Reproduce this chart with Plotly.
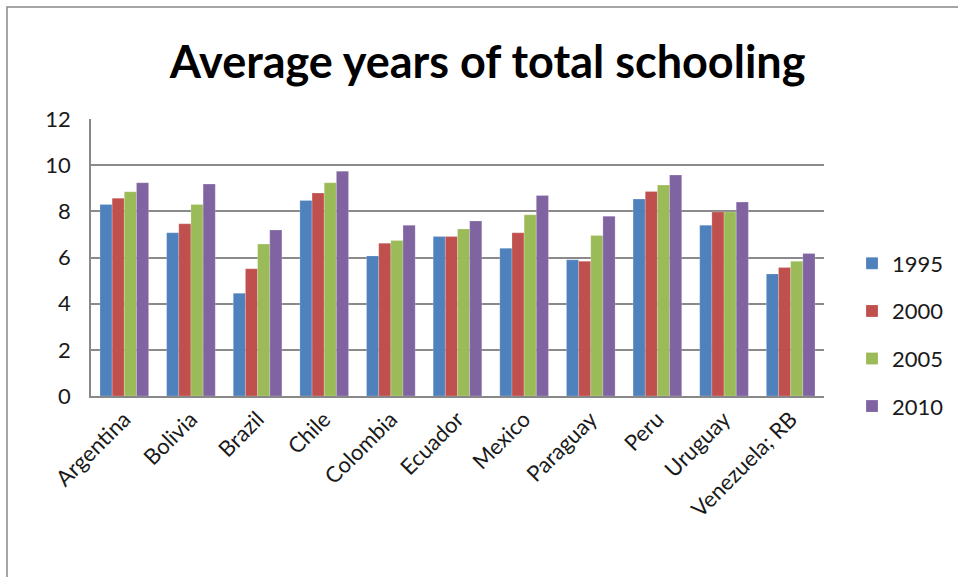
import plotly.graph_objects as go

countries = ["Argentina", "Bolivia", "Brazil", "Chile", "Colombia", "Ecuador",
             "Mexico", "Paraguay", "Peru", "Uruguay", "Venezuela; RB"]
y1995 = [8.30, 7.07, 4.45, 8.47, 6.07, 6.91, 6.40, 5.90, 8.53, 7.40, 5.29]
y2000 = [8.57, 7.46, 5.51, 8.79, 6.62, 6.91, 7.07, 5.84, 8.86, 7.97, 5.57]
y2005 = [8.85, 8.30, 6.58, 9.24, 6.74, 7.24, 7.85, 6.95, 9.14, 7.97, 5.84]
y2010 = [9.24, 9.18, 7.19, 9.74, 7.40, 7.58, 8.69, 7.79, 9.57, 8.40, 6.17]

series = [("1995", y1995, "#4F81BD"), ("2000", y2000, "#C0504D"),
          ("2005", y2005, "#9BBB59"), ("2010", y2010, "#8064A2")]

W, H = 958, 577
L, R, T, B = 91, 134, 119, 181
pw, ph = W - L - R, H - T - B

fig = go.Figure()
for name, vals, color in series:
    fig.add_trace(go.Bar(x=countries, y=vals, name=name, legendgroup=name,
                         marker=dict(color=color, line=dict(color="rgba(255,255,255,0.4)", width=0.5))))

fig.update_layout(
    width=W, height=H,
    margin=dict(l=L, r=R, t=T, b=B, autoexpand=False),
    paper_bgcolor="white", plot_bgcolor="white",
    font=dict(family="Lato", color="#1a1a1a"),
    barmode="group", bargap=0.27, bargroupgap=0,
    title=dict(text="<b>Average years of total schooling</b>", x=0.509, xanchor="center",
               y=1 - 62 / H, yanchor="middle", font=dict(size=45, color="black")),
    legend=dict(x=(852 - L) / pw, xanchor="left", y=1 - (335 - T) / ph, yanchor="middle",
                font=dict(size=22), tracegroupgap=16, traceorder="grouped",
                itemwidth=30),
    xaxis=dict(tickangle=-45, tickfont=dict(size=22), showline=True,
               linecolor="#888", linewidth=1.5, ticks="", automargin=False),
    yaxis=dict(range=[0, 12], dtick=2, tickfont=dict(size=22), showgrid=True,
               gridcolor="#8a8a8a", gridwidth=1.5, showline=True, linecolor="#888",
               linewidth=1.5, ticks="", ticklabelstandoff=14, zeroline=False,
               automargin=False),
    shapes=[dict(type="rect", xref="paper", yref="paper",
                 x0=(7 - L) / pw, x1=(W + 10 - L) / pw,
                 y0=-(B + 10) / ph, y1=1 + (T - 7) / ph,
                 line=dict(color="#888", width=1.5), fillcolor="rgba(0,0,0,0)")],
)

fig.write_html("out.html", config={"displayModeBar": False},
               post_script="document.body.style.margin='0';document.body.style.overflow='hidden';")
